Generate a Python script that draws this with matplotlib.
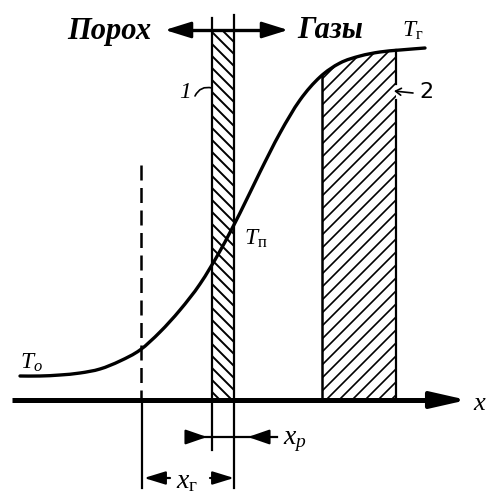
import numpy as np
import matplotlib.pyplot as plt
from matplotlib.patches import Polygon, PathPatch
from matplotlib.path import Path

plt.rcParams['mathtext.fontset'] = 'custom'
plt.rcParams['mathtext.it'] = 'Liberation Serif:italic'
plt.rcParams['mathtext.rm'] = 'Liberation Serif'
plt.rcParams['mathtext.bf'] = 'Liberation Serif:bold'

# temperature profile across the burning zone (pixel units, y grows downwards)
curve_x = [20, 40, 60, 80, 100, 120, 140, 160, 180, 200, 220, 240, 260, 280, 300, 320, 340, 360, 380, 400, 425]
curve_y = [376, 376, 375, 373, 369, 361, 350, 332, 310, 284, 251, 213, 172, 133, 100, 77, 63, 56, 52, 50, 48]

axis_y = 400
axis_x = [12, 467]
x_dash = 141                 # start of the heated layer
band1 = (212, 234)           # reaction zone 1 (powder surface)
band2 = (322, 396)           # reaction zone 2 (gas flame)
labels_top = ['Порох', 'Газы']
temp_labels = [r'$T_o$', r'$T_{\mathrm{п}}$', r'$T_{\mathrm{г}}$']


def smooth_path(xs, ys):
    # Catmull-Rom through the points, written as cubic Bezier segments
    p = np.column_stack([xs, ys]).astype(float)
    p = np.vstack([p[0], p, p[-1]])
    verts = [tuple(p[1])]
    codes = [Path.MOVETO]
    for i in range(1, len(p) - 2):
        c1 = p[i] + (p[i + 1] - p[i - 1]) / 6
        c2 = p[i + 1] - (p[i + 2] - p[i]) / 6
        verts += [tuple(c1), tuple(c2), tuple(p[i + 1])]
        codes += [Path.CURVE4] * 3
    return Path(verts, codes)


def hatch_lines(ax, patch, spacing, slope, lw=1.2):
    ax.add_patch(patch)
    xs = np.arange(-600, 1100, spacing)
    for x0 in xs:
        line, = ax.plot([x0, x0 + slope * 500], [0, 500], color='black', lw=lw,
                        solid_capstyle='butt')
        line.set_clip_path(patch)


def curve_at(x):
    return np.interp(x, curve_x, curve_y)


def arrow(ax, tip, tail, lw, hl, hw):
    ax.annotate('', xy=tip, xytext=tail,
                arrowprops=dict(arrowstyle=f'-|>,head_length={hl},head_width={hw}',
                                lw=lw, color='black', shrinkA=0, shrinkB=0,
                                mutation_scale=10))


def main():
    fig = plt.figure(figsize=(4.89, 4.95), dpi=100)
    ax = fig.add_axes([0, 0, 1, 1])
    ax.set_xlim(0, 489)
    ax.set_ylim(495, 0)
    ax.axis('off')

    # x axis
    ax.plot([axis_x[0], axis_x[1] - 20], [axis_y, axis_y], color='black', lw=3.6,
            solid_capstyle='butt')
    arrow(ax, (axis_x[1], axis_y), (axis_x[1] - 25, axis_y), 3.0, 2.2, 0.5)
    ax.text(473, axis_y + 3, r'$x$', fontsize=19, ha='left', va='center')

    # profile curve
    ax.add_patch(PathPatch(smooth_path(curve_x, curve_y), fill=False, lw=2.4,
                           edgecolor='black', capstyle='round'))

    # band 1: narrow hatched layer
    b1 = Polygon([(band1[0], 32), (band1[1], 32), (band1[1], axis_y), (band1[0], axis_y)],
                 closed=True, fill=False, lw=0)
    hatch_lines(ax, b1, 12, 1.0, lw=1.4)
    ax.plot([band1[0], band1[0]], [18, 450], color='black', lw=1.6)
    ax.plot([band1[1], band1[1]], [15, 488], color='black', lw=1.6)

    # band 2: hatched region under the curve
    xs2 = np.linspace(band2[0], band2[1], 30)
    pts = [(x, curve_at(x)) for x in xs2] + [(band2[1], axis_y), (band2[0], axis_y)]
    b2 = Polygon(pts, closed=True, fill=False, lw=0)
    hatch_lines(ax, b2, 13, -1.0, lw=1.2)
    ax.plot([band2[0], band2[0]], [curve_at(band2[0]), axis_y], color='black', lw=1.8)
    ax.plot([band2[1], band2[1]], [curve_at(band2[1]), 84], color='black', lw=1.6)
    ax.plot([band2[1], band2[1]], [100, axis_y], color='black', lw=1.6)

    # dashed boundary of the heated layer
    ax.plot([x_dash, x_dash], [165, axis_y], color='black', lw=1.8, dashes=(6, 3))
    ax.plot([x_dash + 1, x_dash + 1], [axis_y, 488], color='black', lw=1.6)

    # top double arrow with labels
    ax.plot([175, 278], [30, 30], color='black', lw=2.4)
    arrow(ax, (165, 30), (185, 30), 2.0, 1.6, 0.5)
    arrow(ax, (288, 30), (268, 30), 2.0, 1.6, 0.5)
    ax.text(151, 31, labels_top[0], fontsize=22, family='Liberation Serif',
            style='italic', weight='bold', ha='right', va='center')
    ax.text(297, 31, labels_top[1], fontsize=22, family='Liberation Serif',
            style='italic', weight='bold', ha='left', va='center')

    # temperature labels
    ax.text(20, 362, temp_labels[0], fontsize=17, ha='left', va='center')
    ax.text(244, 238, temp_labels[1], fontsize=17, ha='left', va='center')
    ax.text(402, 30, temp_labels[2], fontsize=17, ha='left', va='center')

    # zone numbers with leaders
    ax.text(191, 93, '1', fontsize=17, family='Liberation Serif', style='italic',
            ha='right', va='center')
    ax.annotate('', xy=(212, 88), xytext=(195, 96),
                arrowprops=dict(arrowstyle='-', lw=1.2, color='black',
                                connectionstyle='arc3,rad=-0.4', shrinkA=0, shrinkB=0))
    ax.text(419, 92, '2', fontsize=16, family='DejaVu Sans', ha='left', va='center')
    ax.annotate('', xy=(394, 91), xytext=(413, 93),
                arrowprops=dict(arrowstyle='->,head_length=0.4,head_width=0.25', lw=1.2,
                                color='black', shrinkA=0, shrinkB=0))

    # x_p dimension
    ax.plot([193, 277], [437, 437], color='black', lw=1.6)
    arrow(ax, (207, 437), (193, 437), 1.6, 1.3, 0.45)
    arrow(ax, (248, 437), (262, 437), 1.6, 1.3, 0.45)
    ax.text(283, 440, r'$x_p$', fontsize=20, ha='left', va='center')

    # x_g dimension
    arrow(ax, (144, 478), (170, 478), 1.6, 1.3, 0.4)
    arrow(ax, (234, 478), (210, 478), 1.6, 1.3, 0.4)
    ax.text(176, 480, r'$x_{\mathrm{г}}$', fontsize=20, ha='left', va='center')

    fig.savefig('out.png', dpi=100, facecolor='white')


if __name__ == '__main__':
    main()
